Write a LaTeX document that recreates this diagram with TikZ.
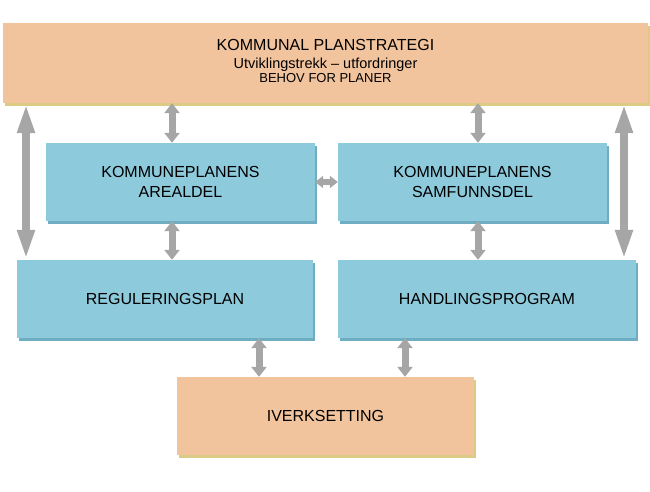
\documentclass[tikz,border=0pt]{standalone}
\usepackage{fontspec}
\setmainfont{Liberation Sans}
\usetikzlibrary{arrows.meta}
\usetikzlibrary{shadows}
\definecolor{peach}{HTML}{F2C49E}
\definecolor{peachshd}{HTML}{DCCB85}
\definecolor{skyb}{HTML}{8DCADC}
\definecolor{skybshd}{HTML}{6FAEC2}
\definecolor{arrgray}{HTML}{A6A6A6}
\tikzset{obox/.style={rectangle,fill=peach,inner sep=0pt,align=center,
           drop shadow={shadow xshift=2pt,shadow yshift=-3pt,fill=peachshd,opacity=1},
           font=\fontsize{16}{20}\selectfont},
         bbox/.style={rectangle,fill=skyb,inner sep=0pt,align=center,
           minimum width=269pt,minimum height=78pt,
           drop shadow={shadow xshift=2pt,shadow yshift=-3pt,fill=skybshd,opacity=1},
           font=\fontsize{16}{20}\selectfont},
         dbl/.style={arrgray,line width=7pt,
           {Triangle[width=15pt,length=10pt]}-{Triangle[width=15pt,length=10pt]}},
         dbllong/.style={arrgray,line width=8pt,
           {Triangle[width=16pt,length=30pt]}-{Triangle[width=16pt,length=30pt]}},
         dblh/.style={arrgray,line width=6pt,
           {Triangle[width=12pt,length=8pt]}-{Triangle[width=12pt,length=8pt]}}
        }

\begin{document}
\begin{tikzpicture}[x=1pt,y=-1pt]
  \useasboundingbox (0,0) rectangle (650,492);
  % boxes
  \node[obox, minimum width=645pt, minimum height=80pt] (plan) at (325.5,63) {};
  \node[align=center, inner sep=0pt, font=\fontsize{16}{18}\selectfont] (plantxt)
    at ([yshift=2pt]plan.center)
    {KOMMUNAL PLANSTRATEGI\\
     {\fontsize{14.5}{17}\selectfont Utviklingstrekk -- utfordringer}\\[-4.5pt]
     {\fontsize{13}{14}\selectfont BEHOV FOR PLANER}};
  \node[bbox] (areal) at (180.5,182) {KOMMUNEPLANENS\\AREALDEL};
  \node[bbox] (samf) at (472.5,182) {KOMMUNEPLANENS\\SAMFUNNSDEL};
  \node[bbox, minimum width=296pt] (reg) at (165,299) {REGULERINGSPLAN};
  \node[bbox, minimum width=298pt] (hand) at (487,299) {HANDLINGSPROGRAM};
  \node[obox, minimum width=297pt, minimum height=78pt] (iverk) at (325.5,416) {IVERKSETTING};

  % arrows
  \coordinate (cl) at (26,0);
  \coordinate (cr) at (624,0);
  \coordinate (ca) at (172,0);
  \coordinate (cs) at (478,0);
  \coordinate (ci) at (259,0);
  \coordinate (ch) at (405,0);
  \draw[dbllong] (plan.south -| cl) -- (reg.north -| cl);
  \draw[dbllong] (plan.south -| cr) -- (hand.north -| cr);
  \draw[dbl] (plan.south -| ca) -- (areal.north -| ca);
  \draw[dbl] (plan.south -| cs) -- (samf.north -| cs);
  \draw[dblh] (areal.east) -- (samf.west);
  \draw[dbl] (areal.south -| ca) -- (reg.north -| ca);
  \draw[dbl] (samf.south -| cs) -- (hand.north -| cs);
  \draw[dbl] (reg.south -| ci) -- (iverk.north -| ci);
  \draw[dbl] (hand.south -| ch) -- (iverk.north -| ch);
\end{tikzpicture}
\end{document}
